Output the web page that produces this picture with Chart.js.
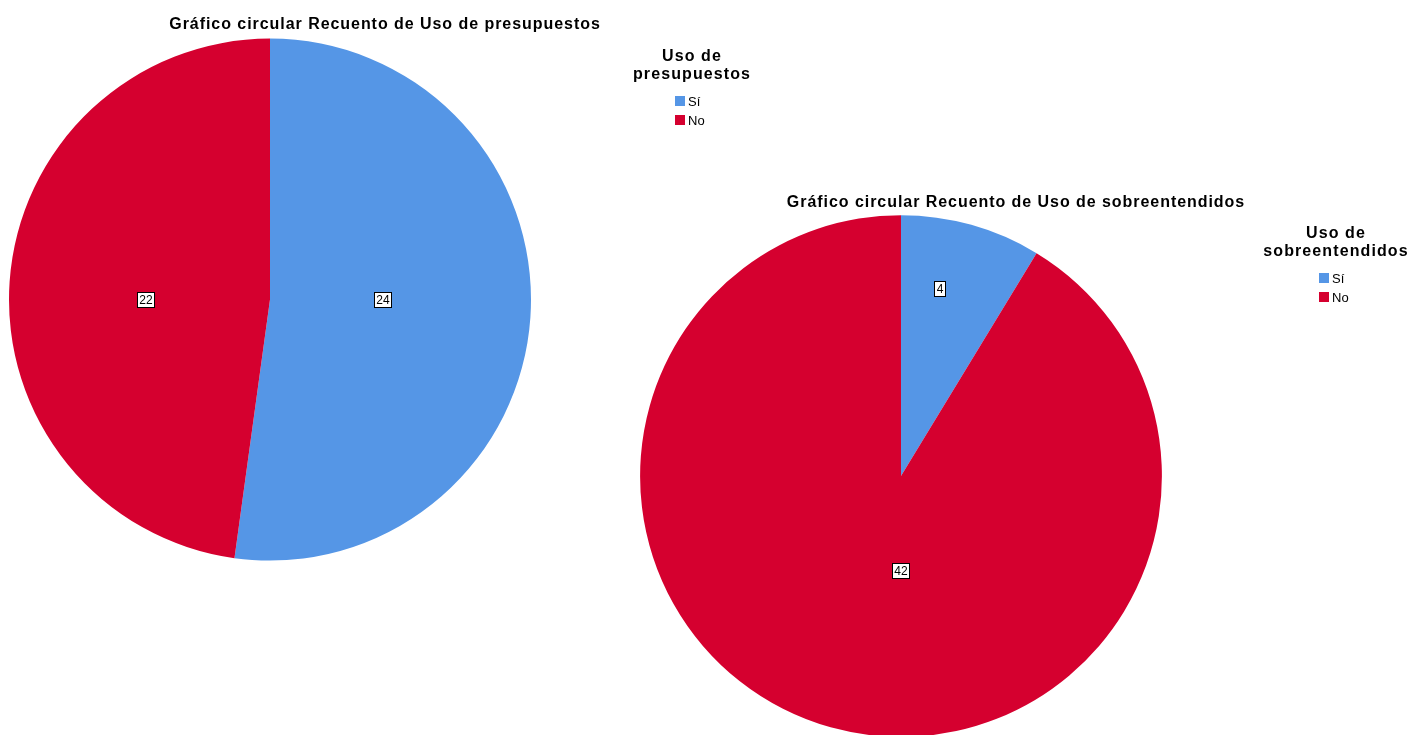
<!DOCTYPE html>
<html>
<head>
<meta charset="utf-8">
<script src="https://cdn.jsdelivr.net/npm/chart.js@4.4.1/dist/chart.umd.min.js"></script>
<style>
html, body { margin: 0; padding: 0; background: #fff; width: 1411px; height: 735px; overflow: hidden; }
canvas { position: absolute; }
#pie1 { left: 0; top: 0; }
#pie2 { left: 640px; top: 183px; }
</style>
</head>
<body>
<canvas id="pie1" width="761" height="561"></canvas>
<canvas id="pie2" width="771" height="554"></canvas>
<script>
// datos
const categorias = ['Sí', 'No'];
const presupuestos = [24, 22];
const sobreentendidos = [4, 42];
const colores = ['#5596e6', '#d5002f'];

const FONT = '"Liberation Sans", Arial, sans-serif';
Chart.defaults.font.family = FONT;
Chart.defaults.color = '#000';

// the SPSS titles are a bit wider than plain Arial, add some tracking
const tracking = {
  id: 'tracking',
  beforeDraw(chart, args, opts) { chart.ctx.letterSpacing = opts.spacing; },
  beforeDatasetsDraw(chart) { chart.ctx.letterSpacing = '0px'; }
};

// white boxed count inside each slice
const sliceLabels = {
  id: 'sliceLabels',
  afterDatasetsDraw(chart, args, opts) {
    const ctx = chart.ctx;
    const meta = chart.getDatasetMeta(0);
    const values = chart.data.datasets[0].data;
    ctx.save();
    ctx.letterSpacing = '0px';
    ctx.font = '12px ' + FONT;
    ctx.textAlign = 'center';
    ctx.textBaseline = 'middle';
    meta.data.forEach((arc, i) => {
      const p = arc.getProps(['x', 'y', 'startAngle', 'endAngle', 'outerRadius'], true);
      const ang = p.startAngle + (p.endAngle - p.startAngle) * opts.along[i];
      const r = p.outerRadius * opts.radius[i];
      const x = Math.round(p.x + Math.cos(ang) * r);
      const y = Math.round(p.y + Math.sin(ang) * r);
      const txt = String(values[i]);
      const w = Math.round(ctx.measureText(txt).width) + 5;
      const h = 16;
      const bx = x - Math.round(w / 2), by = y - h / 2;
      ctx.fillStyle = '#fff';
      ctx.fillRect(bx, by, w, h);
      ctx.strokeStyle = '#000';
      ctx.lineWidth = 1;
      ctx.strokeRect(bx + 0.5, by + 0.5, w - 1, h - 1);
      ctx.fillStyle = '#000';
      ctx.fillText(txt, x, y + 1);
    });
    ctx.restore();
  }
};

// SPSS style legend, drawn in its own layout box on the right
const sideLegend = {
  id: 'sideLegend',
  start(chart, args, opts) {
    const box = {
      position: 'right',
      weight: 1000,
      fullSize: false,
      options: {},
      isHorizontal() { return false; },
      update(maxWidth, maxHeight) {
        this.width = opts.width;
        this.height = maxHeight;
      },
      draw() {
        const ctx = chart.ctx;
        const cx = this.left + opts.center;
        const top = this.top;
        ctx.save();
        ctx.fillStyle = '#000';
        ctx.textAlign = 'center';
        ctx.textBaseline = 'middle';
        ctx.letterSpacing = '1.1px';
        ctx.font = 'bold 16px ' + FONT;
        opts.title.forEach((t, i) => ctx.fillText(t, cx, top + 18 + i * 18));
        ctx.letterSpacing = '0px';
        ctx.font = '13px ' + FONT;
        ctx.textAlign = 'left';
        chart.data.labels.forEach((lab, i) => {
          const y = Math.round(top + 63 + i * 19);
          ctx.fillStyle = chart.data.datasets[0].backgroundColor[i];
          ctx.fillRect(cx - 17, y - 5, 10, 10);
          ctx.fillStyle = '#000';
          ctx.fillText(lab, cx - 4, y + 1);
        });
        ctx.restore();
      }
    };
    chart.$sideLegend = box;
    Chart.layouts.addBox(chart, box);
  },
  stop(chart) {
    Chart.layouts.removeBox(chart, chart.$sideLegend);
  }
};

function pieChart(id, values, title, legendTitle, pad, titlePad, legendBox, labelPos) {
  return new Chart(document.getElementById(id), {
    type: 'pie',
    data: {
      labels: categorias,
      datasets: [{
        data: values,
        backgroundColor: colores,
        borderWidth: 0
      }]
    },
    plugins: [tracking, sliceLabels, sideLegend],
    options: {
      responsive: false,
      animation: false,
      devicePixelRatio: 1,
      layout: { padding: pad },
      plugins: {
        legend: { display: false },
        tooltip: { enabled: false },
        title: {
          display: true,
          text: title,
          color: '#000',
          font: { size: 16, weight: 'bold' },
          padding: titlePad
        },
        tracking: { spacing: '0.95px' },
        sideLegend: { title: legendTitle, width: legendBox.width, center: legendBox.center },
        sliceLabels: labelPos
      }
    }
  });
}

pieChart('pie1', presupuestos,
  'Gráfico circular Recuento de Uso de presupuestos',
  ['Uso de', 'presupuestos'],
  { left: 9, right: 0, top: 0, bottom: 0 },
  { top: 14.5, bottom: 4.5 },
  { width: 230, center: 161 },
  { radius: [0.433, 0.475], along: [0.479, 0.477] });

pieChart('pie2', sobreentendidos,
  'Gráfico circular Recuento de Uso de sobreentendidos',
  ['Uso de', 'sobreentendidos'],
  { left: 0, right: 19, top: 0, bottom: 0 },
  { top: 10, bottom: 3 },
  { width: 230, center: 174 },
  { radius: [0.732, 0.364], along: [0.377, 0.452] });
</script>
</body>
</html>
